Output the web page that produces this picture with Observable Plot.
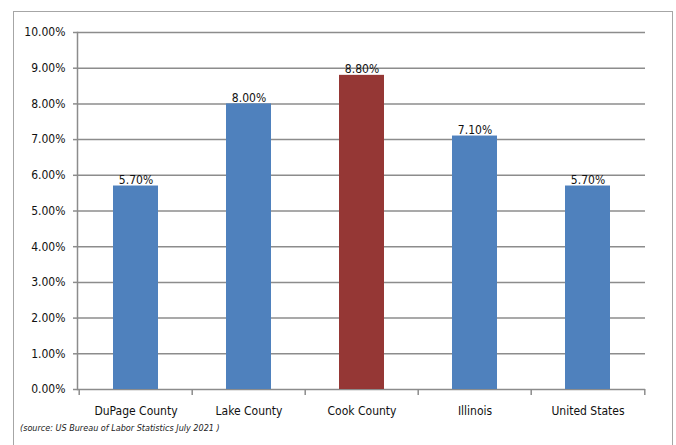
<!DOCTYPE html>
<html>
<head>
<meta charset="utf-8">
<script src="https://cdn.jsdelivr.net/npm/d3@7"></script>
<script src="https://cdn.jsdelivr.net/npm/@observablehq/plot@0.6"></script>
<style>
  html, body { margin: 0; padding: 0; background: #fff; }
  body { width: 676px; height: 445px; position: relative; overflow: hidden;
         font-family: "DejaVu Sans Condensed", "Liberation Sans", sans-serif; }
  #frame { position: absolute; left: 13px; top: 11px; width: 660px; height: 440px;
           border: 1.5px solid #a6a6a6; border-bottom: none; box-sizing: border-box; }
  #chart { position: absolute; left: 0; top: 0; }
  #source { position: absolute; left: 20px; top: 423px; font-size: 9px; font-style: italic; color: #222; }
</style>
</head>
<body>
<div id="frame"></div>
<div id="chart"></div>
<div id="source">(source: US Bureau of Labor Statistics July 2021 )</div>
<script>
// Unemployment rate by area, July 2021 (percent)
const areas = ["DuPage County", "Lake County", "Cook County", "Illinois", "United States"];
const rates = [5.7, 8.0, 8.8, 7.1, 5.7];
const barColors = ["#4f81bd", "#4f81bd", "#953735", "#4f81bd", "#4f81bd"];
const yTicks = [0, 1, 2, 3, 4, 5, 6, 7, 8, 9, 10];

const data = areas.map((area, i) => ({area, rate: rates[i], color: barColors[i]}));

const width = 676, height = 418;
const marginLeft = 77, marginRight = 31, marginTop = 32, marginBottom = 29;
const band = (width - marginLeft - marginRight) / areas.length;
const pct = d => d.toFixed(2) + "%";
const grid = "#8c8c8c";
const font = "'DejaVu Sans Condensed', 'Liberation Sans', sans-serif";

const chart = Plot.plot({
  width, height, marginLeft, marginRight, marginTop, marginBottom,
  style: {fontFamily: font, fontSize: "12px", color: "#111", background: "transparent"},
  x: {domain: areas, padding: 0, label: null},
  y: {domain: [0, 10], label: null},
  marks: [
    Plot.gridY(yTicks, {stroke: grid, strokeOpacity: 1, strokeWidth: 1.5}),
    Plot.barY(data, {x: "area", y: "rate", fill: "color", insetLeft: 34, insetRight: 34}),
    Plot.frame({anchor: "left", stroke: grid, strokeWidth: 1.5}),
    Plot.axisY(yTicks, {tickSize: 4, tickPadding: 8, tickFormat: pct, stroke: grid, strokeWidth: 1.5, fontSize: 12, label: null}),
    // category boundary ticks under the baseline
    Plot.axisX(areas, {tickSize: 6, dx: -band / 2, tickFormat: () => "", stroke: grid, strokeWidth: 1.5, label: null}),
    Plot.axisX(areas.slice(-1), {tickSize: 6, dx: band / 2, tickFormat: () => "", stroke: grid, strokeWidth: 1.5, label: null}),
    Plot.axisX(areas, {tickSize: 0, tickPadding: 17, fontSize: 12, label: null}),
    Plot.text(data, {x: "area", y: "rate", text: d => pct(d.rate), dy: -6, fontSize: 12, fill: "#111"})
  ]
});
document.getElementById("chart").appendChild(chart);
</script>
</body>
</html>
